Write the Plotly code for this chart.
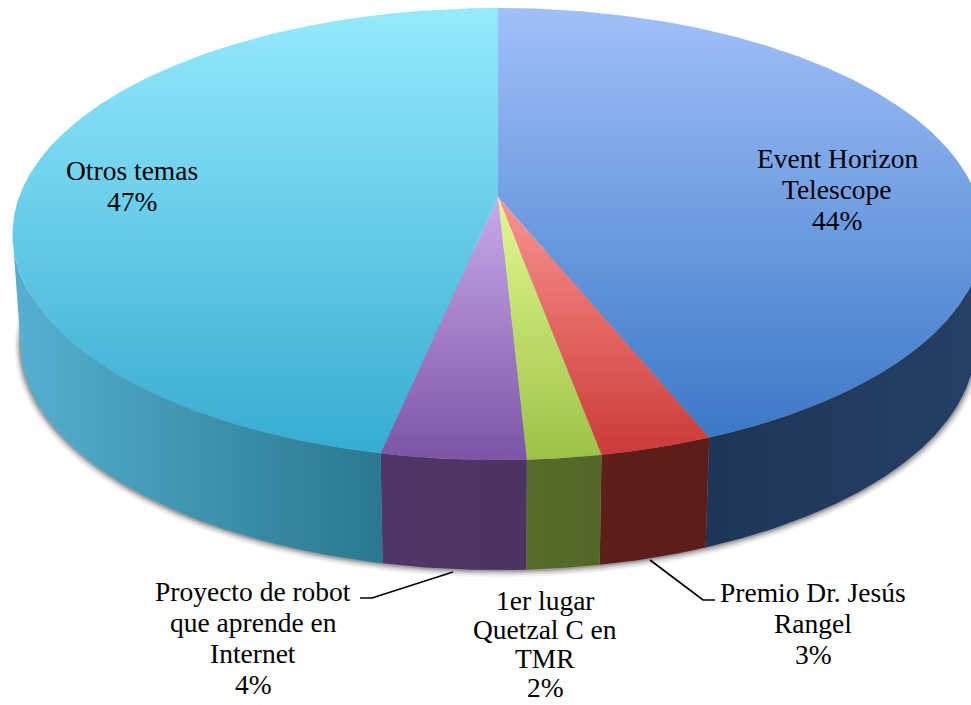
import numpy as np
import plotly.graph_objects as go

# Data (share of the pie, clockwise from 12 o'clock)
categories = ["Event Horizon Telescope", "Premio Dr. Jesús Rangel",
              "1er lugar Quetzal C en TMR", "Proyecto de robot que aprende en Internet", "Otros temas"]
values = [43.9, 3.2, 2.1, 4.1, 46.7]
shown_pct = ["44%", "3%", "2%", "4%", "47%"]
label_lines = [["Event Horizon", "Telescope", "44%"],
               ["Premio Dr. Jesús", "Rangel", "3%"],
               ["1er lugar", "Quetzal C en", "TMR", "2%"],
               ["Proyecto de robot", "que aprende en", "Internet", "4%"],
               ["Otros temas", "47%"]]
label_x = [837, 813, 545, 253, 132]
label_y = [158, 592, 600, 591, 170]
label_step = [31, 31, 29.3, 31, 31]
top_light = ["#a0c0fa", "#fb9490", "#e2fa92", "#c9aaea", "#96eafd"]
top_dark = ["#3c78c6", "#cb3a36", "#9cc246", "#7c54a6", "#36acd2"]
side_left = ["#1d3658", "#5e1f1c", "#566c2a", "#4f3668", "#56b0d0"]
side_right = ["#263f66", "#5c1c1a", "#536828", "#4c3362", "#29788f"]

# Perspective disc
K, CX, CY, A, B = 0.1637, 498.0, 197.0, 479.0, 220.0
CX2, A2, CY2, B2 = 498.0, 471.0, 307.0, 220.0
FONT = "Liberation Serif"
SIZE = 27.5


def rim(theta_deg, cx, a, cy, b):
    t = np.radians(theta_deg)
    x, y = np.sin(t), np.cos(t)
    w = 1 + K * y
    return cx + a * x / w, cy - b * y / w


def arc(t0, t1):
    return np.linspace(t0, t1, max(3, int(abs(t1 - t0) * 3)))


edges = np.concatenate([[0], np.cumsum(values)]) / np.sum(values) * 360
sil_r = np.degrees(np.arccos(-K))
sil_l = 360 - sil_r

fig = go.Figure()


def add_poly(xs, ys, **kw):
    fig.add_trace(go.Scatter(x=xs, y=ys, mode="lines", fill="toself", line=dict(width=0),
                             hoverinfo="skip", showlegend=False, **kw))


# soft shadow below the lower rim
for grow, op in [(6, 0.05), (4.5, 0.08), (3, 0.12), (1.5, 0.18)]:
    t = arc(sil_r - 25, sil_l + 25)
    xs, ys = rim(t, CX2, A2 + grow, CY2 + grow * 0.35, B2 + grow * 0.7)
    add_poly(list(xs) + [xs[0]], list(ys) + [ys[0]], fillcolor=f"rgba(0,0,0,{op})")

# side walls
for i in range(len(values)):
    t0, t1 = max(edges[i], sil_r), min(edges[i + 1], sil_l)
    t = arc(t0, t1)
    x1, y1 = rim(t, CX, A, CY, B)
    x2, y2 = rim(t[::-1], CX2, A2, CY2, B2)
    xs = np.concatenate([x1, x2, x1[:1]])
    ys = np.concatenate([y1, y2, y1[:1]])
    add_poly(xs, ys, fillgradient=dict(type="horizontal", start=float(xs.min()), stop=float(xs.max()),
             colorscale=[[0, side_left[i]], [1, side_right[i]]]))

# top faces
for i in range(len(values)):
    t = arc(edges[i], edges[i + 1])
    xs, ys = rim(t, CX, A, CY, B)
    xs = np.concatenate([[CX], xs, [CX]])
    ys = np.concatenate([[CY], ys, [CY]])
    add_poly(xs, ys, fillgradient=dict(type="vertical", start=float(ys.min()), stop=float(ys.max()),
             colorscale=[[0, top_light[i]], [1, top_dark[i]]]))

# leader lines
for lx, ly in [([360, 372, 453], [598, 598, 572]), ([650, 703, 715], [560, 600, 600])]:
    fig.add_trace(go.Scatter(x=lx, y=ly, mode="lines", line=dict(color="black", width=1.7),
                             hoverinfo="skip", showlegend=False))

annotations = []
for lines, x, y, step in zip(label_lines, label_x, label_y, label_step):
    for j, s in enumerate(lines):
        annotations.append(dict(x=x, y=y + j * step, text=s, showarrow=False, xanchor="center",
                                yanchor="middle", font=dict(family=FONT, size=SIZE, color="black")))

fig.update_layout(width=971, height=705, margin=dict(l=0, r=0, t=0, b=0),
                  paper_bgcolor="white", plot_bgcolor="white", showlegend=False,
                  annotations=annotations,
                  xaxis=dict(range=[0, 971], visible=False, fixedrange=True),
                  yaxis=dict(range=[705, 0], visible=False, fixedrange=True))
fig.write_html("out.html", config=dict(displayModeBar=False),
               post_script="document.body.style.margin='0';")
